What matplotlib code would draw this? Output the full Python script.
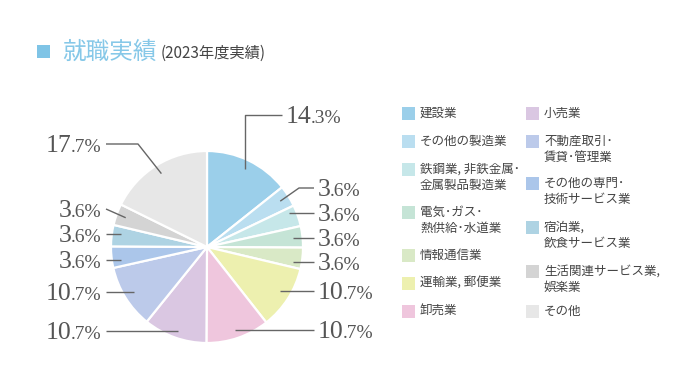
import math
import matplotlib
matplotlib.use('Agg')
import matplotlib.pyplot as plt
from matplotlib.patches import Rectangle

plt.rcParams['font.family'] = ['Noto Sans CJK JP', 'DejaVu Sans']

# ---------------- data ----------------
categories = ['建設業', 'その他の製造業', '鉄鋼業, 非鉄金属･\n金属製品製造業', '電気･ガス･\n熱供給･水道業',
              '情報通信業', '運輸業, 郵便業', '卸売業', '小売業', '不動産取引･\n賃貸･管理業',
              'その他の専門･\n技術サービス業', '宿泊業,\n飲食サービス業', '生活関連サービス業,\n娯楽業', 'その他']
shares = [14.3, 3.6, 3.6, 3.6, 3.6, 10.7, 10.7, 10.7, 10.7, 3.6, 3.6, 3.6, 17.7]
colors = ['#9bcfea', '#badef0', '#c6e7e9', '#c5e4d6', '#d9e9c6', '#edf0af', '#efc6dd',
          '#dac7e2', '#bccaea', '#abc6ea', '#aed3e3', '#d4d4d4', '#e7e7e7']
title = '就職実績'
subtitle = '(2023年度実績)'

# ---------------- layout ----------------
W, H = 696, 387
fig = plt.figure(figsize=(W / 100, H / 100), dpi=100)
ax = fig.add_axes([0, 0, 1, 1])

def Y(y):  # pixel-from-top -> data
    return H - y

CX, CY, R = 207, 247, 96
wedges, _ = ax.pie(shares, colors=colors, startangle=90, counterclock=False,
                   center=(CX, Y(CY)), radius=R,
                   wedgeprops=dict(edgecolor='white', linewidth=1.6))
ax.set_xlim(0, W)
ax.set_ylim(0, H)
ax.set_aspect('auto')
ax.axis('off')

# label layout: (text_y, end_x, mode, elbow_x)
label_layout = [
    (115, 282, 'v', None),
    (188, 314, 'e', 299),
    (213, 314, 'h', None),
    (238, 314, 'h', None),
    (262, 314, 'h', None),
    (291, 314, 'h', None),
    (330, 314, 'h', None),
    (331, 106, 'h', None),
    (292, 106, 'h', None),
    (260, 106, 'h', None),
    (234, 106, 'h', None),
    (209, 106, 'd', None),
    (144, 106, 'e', 138),
]

txt_color = '#555555'
line_color = '#666666'
serif = 'Liberation Serif'
BIG, SMALL, GAP = 18.5, 14, -1.0
fig.canvas.draw()
renderer = fig.canvas.get_renderer()

for w, val, (ty, ex, mode, elx) in zip(wedges, shares, label_layout):
    mid = math.radians((w.theta1 + w.theta2) / 2)
    r = 0.9 * R
    ix = CX + r * math.cos(mid)
    iy = CY - r * math.sin(mid)
    if mode == 'v':
        pts = [(ix, iy), (ix, ty), (ex, ty)]
    elif mode == 'e':
        pts = [(ix, iy), (elx, ty), (ex, ty)]
    elif mode == 'h':
        pts = [(ix, ty), (ex, ty)]
    else:
        pts = [(ix, iy), (ex, ty)]
    ax.plot([p[0] for p in pts], [Y(p[1]) for p in pts], color=line_color, lw=1.0,
            solid_capstyle='butt')

    s = f'{val:.1f}'
    big, small = s.split('.')[0], '.' + s.split('.')[1] + '%'
    base = Y(ty + 8)
    right_side = ex > CX
    if right_side:
        t1 = ax.text(ex + 4, base, big, fontsize=BIG, family=serif, color=txt_color,
                     ha='left', va='baseline')
        bb = t1.get_window_extent(renderer)
        ax.text(bb.x1 + GAP, base, small, fontsize=SMALL, family=serif, color=txt_color,
                ha='left', va='baseline')
    else:
        t2 = ax.text(ex - 5, base, small, fontsize=SMALL, family=serif, color=txt_color,
                     ha='right', va='baseline')
        bb = t2.get_window_extent(renderer)
        ax.text(bb.x0 - GAP, base, big, fontsize=BIG, family=serif, color=txt_color,
                ha='right', va='baseline')

# title
ax.add_patch(Rectangle((37, Y(58)), 13, 13, color='#7fc4e6', lw=0))
tt = ax.text(62, Y(52), title, fontsize=17, color='#86c8e8', ha='left', va='center')
bb = tt.get_window_extent(renderer)
ax.text(bb.x1 + 4, Y(53), subtitle, fontsize=11, color='#444444', ha='left', va='center')

# legend
legend_pos = [(402, 113), (402, 141), (402, 169), (402, 212), (402, 255), (402, 283), (402, 311),
              (526, 113), (526, 141), (526, 183), (526, 227), (526, 271), (526, 311)]
for cat, col, (lx, ly) in zip(categories, colors, legend_pos):
    ax.add_patch(Rectangle((lx, Y(ly + 6.5)), 13, 13, color=col, lw=0))
    for i, line in enumerate(cat.split('\n')):
        ax.text(lx + 18, Y(ly + i * 16), line, fontsize=9, color='#444444',
                ha='left', va='center')

fig.savefig('out.png', dpi=100)
